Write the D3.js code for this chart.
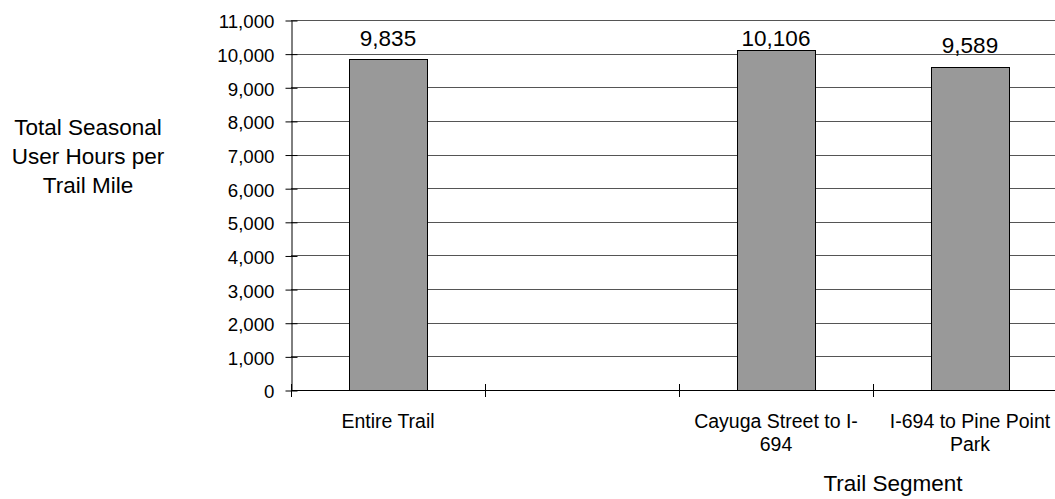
<!DOCTYPE html>
<html>
<head>
<meta charset="utf-8">
<script src="https://cdn.jsdelivr.net/npm/d3@7"></script>
<style>
  html, body { margin: 0; padding: 0; background: #fff; }
  svg { display: block; font-family: "Liberation Sans", Arial, Helvetica, sans-serif; }
</style>
</head>
<body>
<svg id="chart" width="1055" height="499"></svg>
<script>
const categories = ["Entire Trail", " ", "Cayuga Street to I-694", "I-694 to Pine Point Park"];
const values = [9835, null, 10106, 9589];
const yTicks = [0, 1000, 2000, 3000, 4000, 5000, 6000, 7000, 8000, 9000, 10000, 11000];
const yTitleLines = ["Total Seasonal", "User Hours per", "Trail Mile"];
const xTitle = "Trail Segment";

(function () {
const svg = d3.select("#chart");
const plotLeft = 291, plotRight = 1067, plotTop = 20, plotBottom = 390;

const x = d3.scaleBand().domain(categories).range([plotLeft, plotRight]).paddingInner(0.6).paddingOuter(0.3);
const y = d3.scaleLinear().domain([0, 11000]).range([plotBottom, plotTop]);
const fmt = d3.format(",");

// gridlines
svg.append("g").selectAll("line").data(yTicks.filter(d => d > 0)).join("line")
  .attr("x1", plotLeft).attr("x2", plotRight)
  .attr("y1", d => Math.round(y(d)) + 0.5).attr("y2", d => Math.round(y(d)) + 0.5)
  .attr("stroke", "#555").attr("stroke-width", 1);

// bars
const data = categories.map((c, i) => ({ c, v: values[i] })).filter(d => d.v != null);
svg.append("g").selectAll("rect").data(data).join("rect")
  .attr("x", d => Math.round(x(d.c)) + 0.5)
  .attr("y", d => Math.round(y(d.v)) + 0.5)
  .attr("width", Math.round(x.bandwidth()))
  .attr("height", d => Math.round(y(0)) - Math.round(y(d.v)))
  .attr("fill", "#999999").attr("stroke", "#000").attr("stroke-width", 1);

// y axis
const yAxis = d3.axisLeft(y).tickValues(yTicks).tickFormat(fmt).tickSizeInner(6).tickSizeOuter(0).tickPadding(11);
const gy = svg.append("g").attr("transform", `translate(${plotLeft + 0.5},0.5)`).call(yAxis);
gy.select(".domain").attr("stroke", "#000");
gy.selectAll(".tick line").attr("stroke", "#000").attr("x1", 6);
gy.selectAll(".tick text").attr("font-size", "18.7px").attr("fill", "#000").attr("dy", "0.4em")
  .attr("font-family", "'Liberation Sans', Arial, sans-serif");

// x axis: category boundary ticks
const step = x.step();
const bounds = d3.range(categories.length + 1).map(i => plotLeft + i * step);
const gx = svg.append("g");
gx.append("line").attr("x1", plotLeft).attr("x2", plotRight)
  .attr("y1", plotBottom + 0.5).attr("y2", plotBottom + 0.5).attr("stroke", "#000");
gx.selectAll("line.tk").data(bounds).join("line").attr("class", "tk")
  .attr("x1", d => Math.round(d) + 0.5).attr("x2", d => Math.round(d) + 0.5)
  .attr("y1", plotBottom - 6).attr("y2", plotBottom + 7).attr("stroke", "#000");

// category labels with wrapping
function tokens(s) {
  return s.match(/[^\s-]+-|[^\s-]+\s*|-/g) || [];
}
const catG = svg.append("g").attr("font-size", "19.5px").attr("fill", "#000").attr("text-anchor", "middle");
categories.forEach(c => {
  if (!c.trim()) return;
  const cx = x(c) + x.bandwidth() / 2;
  const t = catG.append("text").attr("x", cx).attr("y", plotBottom + 38);
  const toks = tokens(c);
  const lines = [];
  let cur = "";
  const tmp = catG.append("text").attr("visibility", "hidden");
  toks.forEach(tk => {
    const test = cur + tk;
    tmp.text(test.trim());
    if (cur && tmp.node().getComputedTextLength() > 176) {
      lines.push(cur.trim());
      cur = tk;
    } else cur = test;
  });
  lines.push(cur.trim());
  tmp.remove();
  lines.forEach((l, i) => t.append("tspan").attr("x", cx).attr("dy", i === 0 ? 0 : 23).text(l));
});

// value labels
svg.append("g").attr("font-size", "22.5px").attr("fill", "#000").attr("text-anchor", "middle")
  .selectAll("text").data(data).join("text")
  .attr("x", d => x(d.c) + x.bandwidth() / 2)
  .attr("y", d => Math.max(y(d.v) - 14, y(11000) + 26))
  .text(d => fmt(d.v));

// y title
const yt = svg.append("text").attr("font-size", "22.5px").attr("fill", "#000").attr("text-anchor", "middle");
yTitleLines.forEach((l, i) => yt.append("tspan").attr("x", 88).attr("y", 135 + i * 29).text(l));

// x title
svg.append("text").attr("font-size", "22.5px").attr("fill", "#000").attr("text-anchor", "middle")
  .attr("x", 893).attr("y", 491).text(xTitle);
})();
</script>
</body>
</html>
